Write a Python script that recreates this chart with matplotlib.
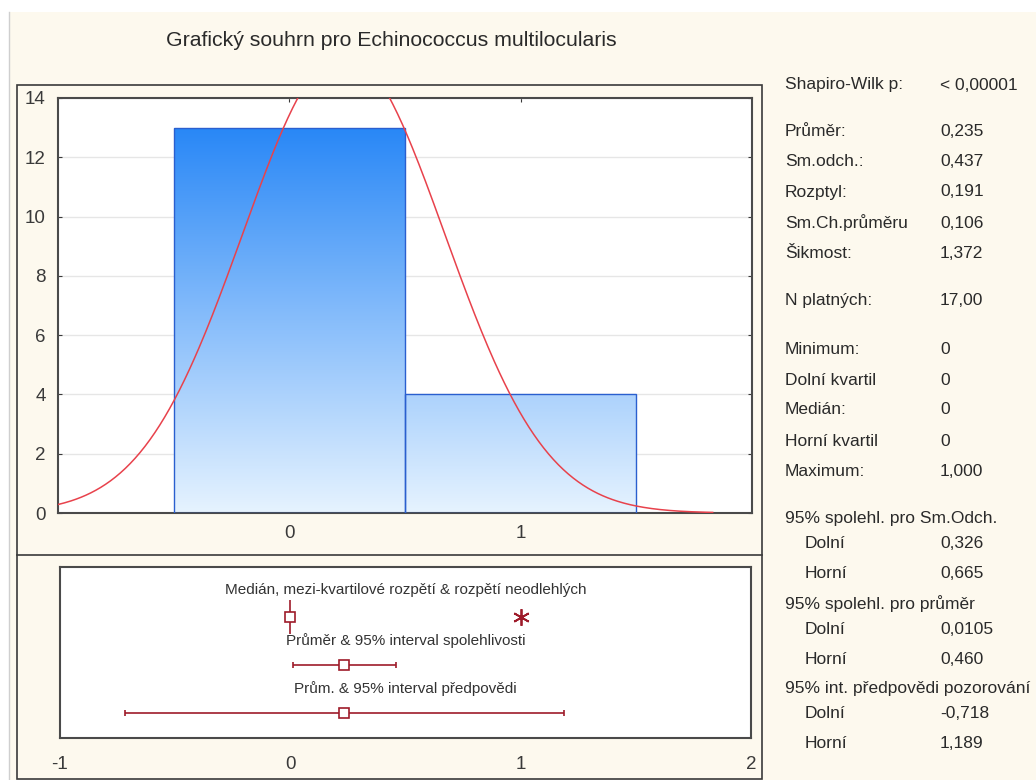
import numpy as np
import matplotlib
matplotlib.use('Agg')
import matplotlib.pyplot as plt
from matplotlib.patches import Rectangle
from matplotlib.lines import Line2D
from matplotlib.colors import LinearSegmentedColormap

# Data
bin_centers = [0, 1]
counts = [13, 4]
bin_width = 1.0
mean = 0.235
sd = 0.437
n_valid = 17
median = 0.0
outliers = [1.0]
ci_mean = [0.0105, 0.460]
pred_int = [-0.718, 1.189]

title = 'Grafický souhrn pro Echinococcus multilocularis'
box_titles = ['Medián, mezi-kvartilové rozpětí & rozpětí neodlehlých',
              'Průměr & 95% interval spolehlivosti',
              'Prům. & 95% interval předpovědi']

stat_labels = ['Shapiro-Wilk p:', 'Průměr:', 'Sm.odch.:', 'Rozptyl:', 'Sm.Ch.průměru',
               'Šikmost:', 'N platných:', 'Minimum:', 'Dolní kvartil', 'Medián:',
               'Horní kvartil', 'Maximum:', '95% spolehl. pro Sm.Odch.', 'Dolní', 'Horní',
               '95% spolehl. pro průměr', 'Dolní', 'Horní',
               '95% int. předpovědi pozorování', 'Dolní', 'Horní']
stat_values = ['< 0,00001', '0,235', '0,437', '0,191', '0,106', '1,372', '17,00',
               '0', '0', '0', '0', '1,000', '', '0,326', '0,665', '', '0,0105', '0,460',
               '', '-0,718', '1,189']
# layout of the side table (pixel rows, indented rows)
row_y_px = [85, 131, 161, 192, 223, 254, 301, 349, 380, 410, 441, 472,
            519, 544, 574, 604, 629, 659, 689, 713, 744]
indented = [13, 14, 16, 17, 19, 20]

W, H = 1036, 780
bg = '#fdf9ee'
dark_red = '#9e1b2a'
txt = '#2a2a2a'

plt.rcParams['font.family'] = ['Liberation Sans', 'DejaVu Sans']

fig = plt.figure(figsize=(W / 100, H / 100), dpi=100)
fig.patch.set_facecolor('white')

def px(x0, y0, x1, y1):
    return [x0 / W, 1 - y1 / H, (x1 - x0) / W, (y1 - y0) / H]

# cream background and frames
fig.patches.append(Rectangle((9 / W, 0), 1, 1 - 12 / H, transform=fig.transFigure,
                             facecolor=bg, edgecolor='none', zorder=-10))
fig.lines.append(Line2D([9 / W, 9 / W], [0, 1 - 12 / H], transform=fig.transFigure,
                        color='#cfcfcf', lw=1))
fig.patches.append(Rectangle((17 / W, 1 - 779 / H), (762 - 17) / W, (779 - 85) / H,
                             transform=fig.transFigure, facecolor='none',
                             edgecolor='#3a3a3a', lw=1.2, zorder=-5))
fig.lines.append(Line2D([17 / W, 762 / W], [1 - 555 / H, 1 - 555 / H],
                        transform=fig.transFigure, color='#3a3a3a', lw=1.2))

fig.text(391 / W, 1 - 40 / H, title, ha='center', va='center', fontsize=15.3, color=txt)

# histogram
ax = fig.add_axes(px(58, 98, 752, 513))
ax.set_xlim(-1, 2)
ax.set_ylim(0, 14)
ax.set_facecolor('white')
for s in ax.spines.values():
    s.set_color('#4a4a4a')
    s.set_linewidth(1.5)
ax.set_yticks(range(0, 15, 2))
ax.set_xticks([0, 1])
ax.tick_params(direction='in', length=3, top=True, right=True, labelsize=13.5,
               colors='#3a3a3a', pad=9)
ax.grid(axis='y', color='#e6e6e6', lw=1)
ax.set_axisbelow(True)

cmap = LinearSegmentedColormap.from_list('bluegrad', ['#e6f3ff', '#1a7ff6'])
grad = np.linspace(0, 1, 256).reshape(-1, 1)
for c, h in zip(bin_centers, counts):
    bar = Rectangle((c - bin_width / 2, 0), bin_width, h, facecolor='none',
                    edgecolor='#2a5fcf', lw=1, zorder=3)
    ax.add_patch(bar)
    im = ax.imshow(grad, cmap=cmap, origin='lower', aspect='auto',
                   extent=(-1, 2, 0, 14), zorder=2)
    im.set_clip_path(bar)

xs = np.linspace(-1, 1.83, 400)
ys = n_valid * bin_width * np.exp(-0.5 * ((xs - mean) / sd) ** 2) / (sd * np.sqrt(2 * np.pi))
ax.plot(xs, ys, color='#e8424c', lw=1.1, zorder=4, clip_on=True)

# box / interval panel
bx = fig.add_axes(px(60, 567, 751, 738))
bx.set_xlim(-1, 2)
bx.set_ylim(0, 1)
bx.set_facecolor('white')
for s in bx.spines.values():
    s.set_color('#4a4a4a')
    s.set_linewidth(1.5)
bx.set_yticks([])
bx.set_xticks([-1, 0, 1, 2])
bx.set_xticklabels(['-1', '0', '1', '2'])
bx.tick_params(length=0, labelsize=13.5, colors='#3a3a3a', pad=13)

text_y = [0.865, 0.573, 0.292]
mark_y = [0.708, 0.427, 0.146]
for t, ty in zip(box_titles, text_y):
    bx.text(0.5, ty, t, transform=bx.transAxes, ha='center', va='center',
            fontsize=11, color='#333333')

bx.plot([median], [mark_y[0]], marker='|', ms=24, mew=1.2, color=dark_red)
bx.plot([median], [mark_y[0]], marker='s', ms=7, mfc='white', mec=dark_red, mew=1.2)
bx.plot(outliers, [mark_y[0]] * len(outliers), marker=(6, 2, 0), ms=12, mew=1.3,
        color=dark_red, ls='none')
for lo_hi, my in [(ci_mean, mark_y[1]), (pred_int, mark_y[2])]:
    bx.errorbar([mean], [my], xerr=[[mean - lo_hi[0]], [lo_hi[1] - mean]], fmt='none',
                ecolor=dark_red, elinewidth=1.2, capsize=2.5, capthick=1.2)
    bx.plot([mean], [my], marker='s', ms=7, mfc='white', mec=dark_red, mew=1.2)

# side table
for i, (lab, val, y) in enumerate(zip(stat_labels, stat_values, row_y_px)):
    lx = 805 if i in indented else 785
    fig.text(lx / W, 1 - y / H, lab, ha='left', va='center', fontsize=12.5, color=txt)
    if val:
        fig.text(940 / W, 1 - y / H, val, ha='left', va='center', fontsize=12.5, color=txt)

fig.savefig('out.png', dpi=100, facecolor=fig.get_facecolor())
